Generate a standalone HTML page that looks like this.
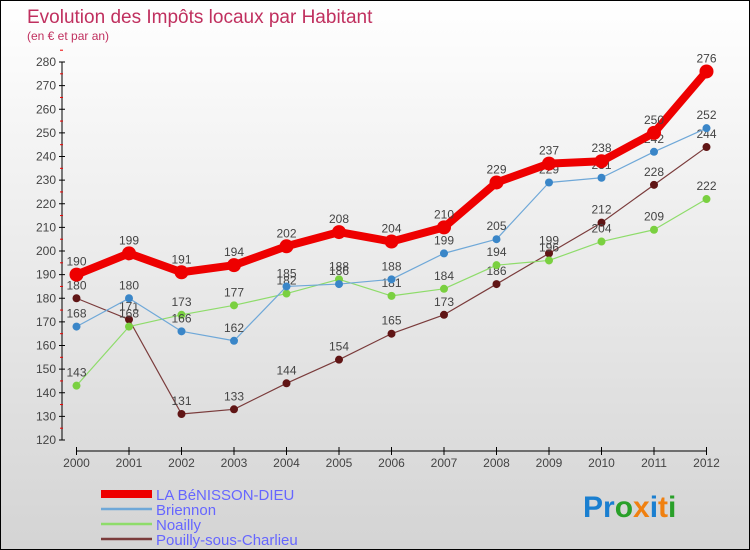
<!DOCTYPE html>
<html><head><meta charset="utf-8"><style>
body{margin:0}
#c{width:750px;height:550px;position:relative;box-sizing:border-box;border:1px solid #000;background:linear-gradient(#fff,#d4d4d4);font-family:"Liberation Sans",sans-serif;overflow:hidden}
</style></head><body>
<div id="c">
<svg id="s" width="750" height="550" style="position:absolute;left:0;top:0">
<text x="26" y="22" font-size="19" fill="#c0305f">Evolution des Impôts locaux par Habitant</text>
<text x="26" y="39" font-size="12" fill="#c0305f">(en € et par an)</text>
<g id="axes"></g><g id="series"></g>
<g id="legend" font-size="15" fill="#6666ff"></g>
<text x="582" y="516" font-size="30" font-weight="bold"><tspan fill="#1a7fd0">Pr</tspan><tspan fill="#2aa02a">o</tspan><tspan fill="#f08010">x</tspan><tspan fill="#1a7fd0">i</tspan><tspan fill="#f08010">t</tspan><tspan fill="#2aa02a">i</tspan></text>
</svg>
</div>
<script>
const years=[2000,2001,2002,2003,2004,2005,2006,2007,2008,2009,2010,2011,2012];
const yTicks=[120,130,140,150,160,170,180,190,200,210,220,230,240,250,260,270,280];
const seriesNames=["LA BéNISSON-DIEU","Briennon","Noailly","Pouilly-sous-Charlieu"];
const laBenisson=[190,199,191,194,202,208,204,210,229,237,238,250,276];
const briennon=[168,180,166,162,185,186,188,199,205,229,231,242,252];
const noailly=[143,168,173,177,182,188,181,184,194,196,204,209,222];
const pouilly=[180,171,131,133,144,154,165,173,186,199,212,228,244];
const NS="http://www.w3.org/2000/svg";
function X(i){return 75.5+i*(705.5-75.5)/(years.length-1);}
function Y(v){return 439-(v-120)*(439-61)/160;}
function el(t,a,p){const e=document.createElementNS(NS,t);for(const k in a)e.setAttribute(k,a[k]);p.appendChild(e);return e;}
const ax=document.getElementById('axes');
let l=el('line',{x1:61,y1:Y(280),x2:61,y2:Y(120),stroke:'#000'},ax);


yTicks.forEach(v=>{
 el('line',{x1:58,x2:64,y1:Y(v),y2:Y(v),stroke:'#000'},ax);
 el('line',{x1:59,x2:62,y1:Y(v+5),y2:Y(v+5),stroke:'#e00'},ax);
 const t=el('text',{x:55,y:Y(v)+4,'font-size':12,fill:'#444','text-anchor':'end'},ax);t.textContent=v;
 
 
});
l=el('line',{x1:X(0),y1:450,x2:X(12),y2:450,stroke:'#000'},ax);


years.forEach((y,i)=>{
 el('line',{x1:X(i),x2:X(i),y1:446,y2:454,stroke:'#000'},ax);
 const t=el('text',{x:X(i),y:466,'font-size':12,fill:'#444','text-anchor':'middle'},ax);t.textContent=y;
 
 
});
const sg=document.getElementById('series');
const defs=[[pouilly,'#7a3b3b','#601515',1.2,4],[noailly,'#8edc6a','#7ad040',1.2,4],[briennon,'#6fa8d8','#3a86c8',1.2,4],[laBenisson,'#ee0000','#ee0000',8,7]];
const keys=['pouilly','noailly','briennon','la-benisson'];
defs.forEach((d,k)=>{
 const [vals,col,dot,w,r]=d;
 const p=el('polyline',{points:vals.map((v,i)=>X(i)+','+Y(v)).join(' '),fill:'none',stroke:col,'stroke-width':w,'stroke-linejoin':'round'},sg);
 
 
 vals.forEach((v,i)=>{
  const c=el('circle',{cx:X(i),cy:Y(v),r:r,fill:dot},sg);
  
  
  const t=el('text',{x:X(i),y:Y(v)-9,'font-size':12,fill:'#444','text-anchor':'middle'},sg);t.textContent=v;
  
  
 });
});
const lg=document.getElementById('legend');
const lcol=['#ee0000','#6fa8d8','#8edc6a','#7a3b3b'],lw=[8,2.5,2.5,2.5];
seriesNames.forEach((n,i)=>{
 const y=493+i*15;
 const ln=el('line',{x1:100,x2:151,y1:y,y2:y,stroke:lcol[i],'stroke-width':lw[i]},lg);
 
 
 const t=el('text',{x:155,y:y+6},lg);t.textContent=n;
 
 
});
</script>
</body></html>
